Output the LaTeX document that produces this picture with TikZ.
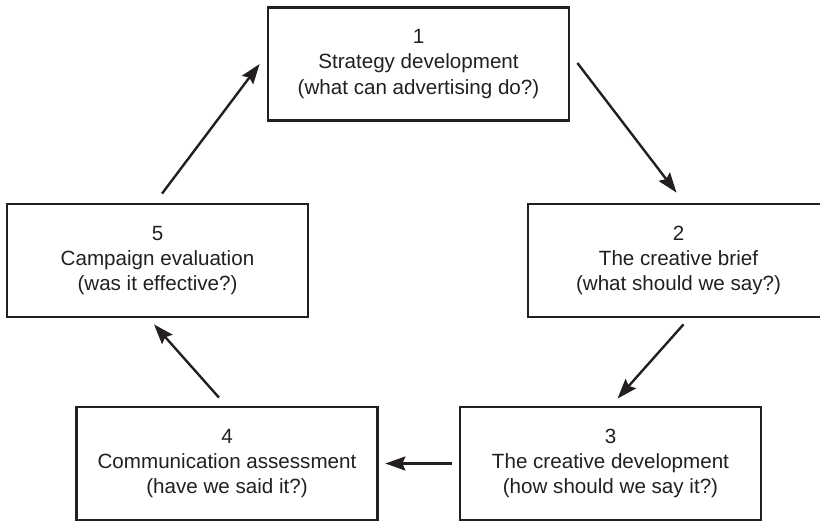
\documentclass[tikz,border=0pt]{standalone}
\usepackage{fontspec}
\setmainfont{Liberation Sans}
\usetikzlibrary{arrows.meta}
\definecolor{ink}{HTML}{231F20}
\tikzset{
  stagebox/.style={draw=ink, line width=1.4pt, minimum width=150.5pt, minimum height=56.5pt,
    align=center, text=ink, font=\fontsize{10.3}{12.6}\selectfont},
  cyclearrow/.style={draw=ink, line width=1.2pt, -{Stealth[length=10pt,width=7pt,inset=1.5pt]}}
}
\begin{document}
\begin{tikzpicture}[x=0.5pt,y=-0.5pt]
\useasboundingbox (0,0) rectangle (820,521);

\node[stagebox] (s1) at (418.5,64) {1\\Strategy development\\(what can advertising do?)};
\node[stagebox] (s2) at (678.5,260.5) {2\\The creative brief\\(what should we say?)};
\node[stagebox] (s3) at (610.5,463.5) {3\\The creative development\\(how should we say it?)};
\node[stagebox] (s4) at (227,463.5) {4\\Communication assessment\\(have we said it?)};
\node[stagebox] (s5) at (157.5,260.5) {5\\Campaign evaluation\\(was it effective?)};

\draw[cyclearrow] ([shift={(7,-1)}]s1.east) -- ([shift={(-2,-10)}]s2.north);
\draw[cyclearrow] ([shift={(5,6)}]s2.south) -- ([shift={(7,-7)}]s3.north);
\draw[cyclearrow] ([shift={(-7,0)}]s3.west) -- ([shift={(6.5,0)}]s4.east);
\draw[cyclearrow] ([shift={(-8,-8)}]s4.north) -- ([shift={(-3.5,6)}]s5.south);
\draw[cyclearrow] ([shift={(4.5,-9)}]s5.north) -- ([shift={(-7,0)}]s1.west);
\end{tikzpicture}
\end{document}
